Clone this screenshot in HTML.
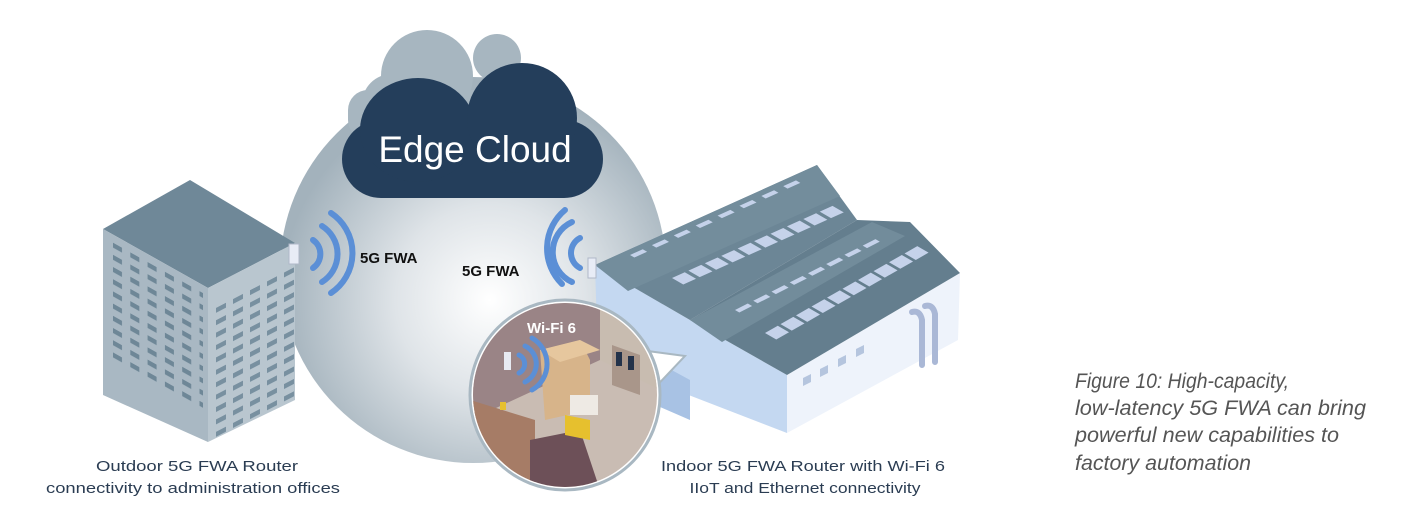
<!DOCTYPE html>
<html><head><meta charset="utf-8"><style>
html,body{margin:0;padding:0;background:#fff;}
svg{display:block;}
</style></head><body>
<svg width="1408" height="532" viewBox="0 0 1408 532" xmlns="http://www.w3.org/2000/svg">
<defs>
<radialGradient id="sph" cx="490" cy="300" r="210" gradientUnits="userSpaceOnUse">
<stop offset="0" stop-color="#ffffff"/>
<stop offset="0.45" stop-color="#dfe4e8"/>
<stop offset="1" stop-color="#a3b2bc"/>
</radialGradient>
<pattern id="wl" patternUnits="userSpaceOnUse" width="17.3" height="12.2" x="10" y="8">
<rect x="0" y="0" width="9" height="5" fill="#6e8797"/>
</pattern>
<pattern id="wr" patternUnits="userSpaceOnUse" width="17" height="12.4" x="8" y="24">
<rect x="0" y="0" width="10" height="5" fill="#7890a0"/>
</pattern>
<clipPath id="cc"><circle cx="565" cy="395" r="92"/></clipPath>
</defs>

<!-- sphere -->
<circle cx="473" cy="270" r="193" fill="url(#sph)"/>

<!-- back cloud -->
<g fill="#a7b6c0">
<circle cx="392" cy="104" r="30"/>
<circle cx="427" cy="76" r="46"/>
<circle cx="497" cy="58" r="24"/>
<rect x="348" y="90" width="168" height="50" rx="20"/>
</g>
<!-- dark cloud -->
<g fill="#243e5b">
<rect x="342" y="120" width="261" height="78" rx="39"/>
<ellipse cx="418" cy="130" rx="58" ry="52"/>
<ellipse cx="522" cy="118" rx="55" ry="55"/>
</g>
<text x="475" y="162" text-anchor="middle" font-family="Liberation Sans, sans-serif" font-size="37" fill="#fff">Edge Cloud</text>

<!-- office building -->
<polygon points="190,180 295,243 208,288 103,229" fill="#6f8898"/>
<polygon points="103,229 208,288 208,442 103,395" fill="#a9b8c3"/>
<polygon points="208,288 295,243 295,400 208,442" fill="#b9c6cf"/>
<g transform="matrix(1,0.56,0,1,103,229)">
<rect x="10" y="8" width="90" height="121" fill="url(#wl)"/>
</g>
<g transform="matrix(1,-0.52,0,1,208,288)">
<rect x="8" y="24" width="80" height="136" fill="url(#wr)"/>
</g>
<rect x="289" y="244" width="10" height="20" fill="#e8ecf6" stroke="#b0b8c8" stroke-width="1"/>

<!-- left waves -->
<g fill="none" stroke="#5b8fd6" stroke-width="6" stroke-linecap="round">
<path d="M313,240 A17,17 0 0 1 313,268"/>
<path d="M322,226 A33,33 0 0 1 322,282"/>
<path d="M331,213 A48,48 0 0 1 331,293"/>
</g>
<text x="360" y="263" font-family="Liberation Sans, sans-serif" font-weight="bold" font-size="15" fill="#111">5G FWA</text>
<text x="462" y="276" font-family="Liberation Sans, sans-serif" font-weight="bold" font-size="15" fill="#111">5G FWA</text>
<!-- right waves -->
<g fill="none" stroke="#5b8fd6" stroke-width="6" stroke-linecap="round">
<path d="M580,238 A17,17 0 0 0 580,268"/>
<path d="M572,222 A33,33 0 0 0 572,282"/>
<path d="M565,210 A50,50 0 0 0 562,284"/>
</g>

<!-- warehouse -->
<polygon points="595,265 690,320 787,375 787,433 598,360" fill="#c4d8f1"/>
<polygon points="598,330 690,380 690,420 598,380" fill="#a8c2e4"/>
<polygon points="787,375 960,273 958,340 787,433" fill="#eef3fb"/>
<polygon points="595,265 817,165 857,220 690,320" fill="#6c8696"/>
<polygon points="690,320 857,220 910,222 960,273 787,375" fill="#647e8e"/>
<polygon points="595,265 817,165 840,196 628,291" fill="#738d9c"/>
<polygon points="690,320 872,222 905,236 722,342" fill="#728c9b"/>
<!-- roof windows -->
<g fill="#c5d2ea">
<g transform="matrix(0.912,-0.41,0.866,0.5,630,255)">
<rect x="0" y="0" width="14" height="5"/><rect x="24" y="0" width="14" height="5"/><rect x="48" y="0" width="14" height="5"/><rect x="72" y="0" width="14" height="5"/><rect x="96" y="0" width="14" height="5"/><rect x="120" y="0" width="14" height="5"/><rect x="144" y="0" width="14" height="5"/><rect x="168" y="0" width="14" height="5"/>
</g>
<g transform="matrix(0.912,-0.41,0.866,0.5,672,278)">
<rect x="0" y="0" width="14" height="13"/><rect x="18" y="0" width="14" height="13"/><rect x="36" y="0" width="14" height="13"/><rect x="54" y="0" width="14" height="13"/><rect x="72" y="0" width="14" height="13"/><rect x="90" y="0" width="14" height="13"/><rect x="108" y="0" width="14" height="13"/><rect x="126" y="0" width="14" height="13"/><rect x="144" y="0" width="14" height="13"/><rect x="162" y="0" width="14" height="13"/>
</g>
<g transform="matrix(0.912,-0.46,0.866,0.5,735,310)">
<rect x="0" y="0" width="14" height="5"/><rect x="20" y="0" width="14" height="5"/><rect x="40" y="0" width="14" height="5"/><rect x="60" y="0" width="14" height="5"/><rect x="80" y="0" width="14" height="5"/><rect x="100" y="0" width="14" height="5"/><rect x="120" y="0" width="14" height="5"/><rect x="140" y="0" width="14" height="5"/>
</g>
<g transform="matrix(0.912,-0.52,0.866,0.5,765,333)">
<rect x="0" y="0" width="14" height="13"/><rect x="17" y="0" width="14" height="13"/><rect x="34" y="0" width="14" height="13"/><rect x="51" y="0" width="14" height="13"/><rect x="68" y="0" width="14" height="13"/><rect x="85" y="0" width="14" height="13"/><rect x="102" y="0" width="14" height="13"/><rect x="119" y="0" width="14" height="13"/><rect x="136" y="0" width="14" height="13"/><rect x="153" y="0" width="14" height="13"/>
</g>
</g>
<!-- side wall details -->
<g fill="#b5c5de">
<polygon points="803,378 811,374 811,382 803,386"/><polygon points="820,369 828,365 828,373 820,377"/><polygon points="838,359 846,355 846,363 838,367"/><polygon points="856,349 864,345 864,353 856,357"/>
</g>
<path d="M912,312 q8,-2 10,8 v45" fill="none" stroke="#aab8d6" stroke-width="6" stroke-linecap="round"/>
<path d="M925,306 q8,-2 10,8 v48" fill="none" stroke="#aab8d6" stroke-width="6" stroke-linecap="round"/>
<rect x="588" y="258" width="8" height="20" fill="#e8ecf6" stroke="#b0b8c8" stroke-width="1"/>

<!-- pointer -->
<polygon points="640,350 685,356 648,395" fill="#fff" stroke="#a9b8c2" stroke-width="2"/>

<!-- inset circle -->
<circle cx="565" cy="395" r="95" fill="#fff" stroke="#a9b8c2" stroke-width="3"/>
<g clip-path="url(#cc)">
<rect x="470" y="300" width="190" height="190" fill="#c9bcb3"/>
<polygon points="470,300 600,300 600,360 470,420" fill="#9a8486"/>
<polygon points="600,300 660,300 660,390 600,360" fill="#c8bcb0"/>
<polygon points="612,345 640,355 640,395 612,385" fill="#a9968a"/>
<rect x="616" y="352" width="6" height="14" fill="#23324a"/><rect x="628" y="356" width="6" height="14" fill="#23324a"/>
<polygon points="540,350 580,340 590,360 590,410 545,420" fill="#d7b48a"/>
<polygon points="540,350 580,340 600,350 560,362" fill="#e6c79e"/>
<polygon points="470,400 535,420 535,490 470,490" fill="#a67c66"/>
<polygon points="530,440 580,430 600,490 530,490" fill="#6d5058"/>
<rect x="570" y="395" width="28" height="20" fill="#eeeae4"/>
<polygon points="565,415 590,420 590,440 565,435" fill="#e6c02e"/>
<rect x="500" y="402" width="6" height="8" fill="#e6c02e"/>
</g>
<g fill="none" stroke="#5b8fd6" stroke-width="5" stroke-linecap="round">
<path d="M519,355 A10,10 0 0 1 519,373"/>
<path d="M525,346 A20,20 0 0 1 525,382"/>
<path d="M532,338 A30,30 0 0 1 532,390"/>
</g>
<rect x="504" y="352" width="7" height="18" fill="#e7eaf2"/>
<text x="527" y="333" font-family="Liberation Sans, sans-serif" font-weight="bold" font-size="15" fill="#fff">Wi-Fi 6</text>

<!-- labels -->
<g font-family="Liberation Sans, sans-serif" font-size="15" fill="#2a3c52" text-anchor="middle">
<text x="197" y="471" textLength="202" lengthAdjust="spacingAndGlyphs">Outdoor 5G FWA Router</text>
<text x="193" y="493" textLength="294" lengthAdjust="spacingAndGlyphs">connectivity to administration offices</text>
<text x="803" y="471" textLength="284" lengthAdjust="spacingAndGlyphs">Indoor 5G FWA Router with Wi-Fi 6</text>
<text x="805" y="493" textLength="231" lengthAdjust="spacingAndGlyphs">IIoT and Ethernet connectivity</text>
</g>
<g font-family="Liberation Sans, sans-serif" font-size="21" font-style="italic" fill="#555">
<text x="1075" y="388" textLength="214" lengthAdjust="spacingAndGlyphs">Figure 10:  High-capacity,</text>
<text x="1075" y="415" textLength="291" lengthAdjust="spacingAndGlyphs">low-latency 5G FWA can bring</text>
<text x="1075" y="442" textLength="264" lengthAdjust="spacingAndGlyphs">powerful new capabilities to</text>
<text x="1075" y="470" textLength="176" lengthAdjust="spacingAndGlyphs">factory automation</text>
</g>
</svg>
</body></html>
